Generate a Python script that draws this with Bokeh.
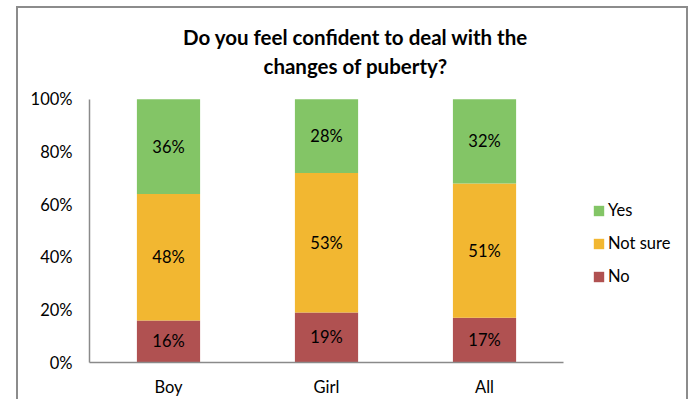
from bokeh.plotting import figure
from bokeh.models import (ColumnDataSource, FixedTicker, PrintfTickFormatter, LabelSet, Label,
                          Legend, LegendItem, Range1d, InlineStyleSheet)
from bokeh.core.properties import value
from bokeh.embed import file_html
from bokeh.resources import INLINE

categories = ["Boy", "Girl", "All"]
no = [16, 19, 17]
not_sure = [48, 53, 51]
yes = [36, 28, 32]
series_names = ["No", "Not sure", "Yes"]
series_values = [no, not_sure, yes]
colors = ["#B05151", "#F2B731", "#83C566"]
y_ticks = [0, 20, 40, 60, 80, 100]
title_lines = ["Do you feel confident to deal with the", "changes of puberty?"]

FONT = "Lato"
FS = "16.5px"

# frame spans the whole chart area to the right and top, so that title and
# legend (which are clipped to the frame) can live inside it
x_pos = [i + 0.5 for i in range(len(categories))]
p = figure(width=688, height=399, output_backend="svg", toolbar_location=None,
           x_range=Range1d(0, 3.791), y_range=Range1d(0, 137.5),
           min_border_left=89, min_border_right=0, min_border_top=0, min_border_bottom=36)
p.outline_line_color = None
p.xgrid.grid_line_color = None
p.ygrid.grid_line_color = None

data = {"x": x_pos}
for n, v in zip(series_names, series_values):
    data[n] = v
src = ColumnDataSource(data)
renderers = p.vbar_stack(series_names, x="x", width=0.4, color=colors, source=src, line_color=None)

# segment labels
lx, ly, lt = [], [], []
for i, xp in enumerate(x_pos):
    bottom = 0
    for v in series_values:
        val = v[i]
        lx.append(xp)
        ly.append(bottom + val / 2)
        lt.append(f"{val}%")
        bottom += val
lsrc = ColumnDataSource(dict(x=lx, y=ly, t=lt))
p.add_layout(LabelSet(x="x", y="y", text="t", source=lsrc, text_align="center",
                      text_baseline="middle", text_font=value(FONT), text_font_size=FS,
                      text_color="#000000"))

# axes
for ax in (p.xaxis[0], p.yaxis[0]):
    ax.axis_line_color = "#8a8a8a"
    ax.axis_line_width = 1.5
    ax.major_tick_line_color = None
    ax.minor_tick_line_color = None
    ax.major_tick_in = 0
    ax.major_tick_out = 0
    ax.minor_tick_in = 0
    ax.minor_tick_out = 0
    ax.major_label_text_font = FONT
    ax.major_label_text_font_size = FS
    ax.major_label_text_color = "#000000"
p.yaxis.ticker = FixedTicker(ticks=y_ticks)
p.yaxis.formatter = PrintfTickFormatter(format="%d%%")
p.yaxis.bounds = (0, 100)
p.yaxis.major_label_standoff = 17
p.xaxis.ticker = FixedTicker(ticks=x_pos)
p.xaxis.major_label_overrides = {xp: c for xp, c in zip(x_pos, categories)}
p.xaxis.bounds = (0, len(categories))
p.xaxis.major_label_standoff = 14

# title (two centred lines)
for txt, yy in zip(title_lines, (123.5, 112.5)):
    p.add_layout(Label(x=1.684, y=yy, text=txt, text_align="center", text_baseline="middle",
                       text_font=FONT, text_font_style="bold", text_font_size="20.5px",
                       text_color="#000000"))

# legend
items = [LegendItem(label=series_names[i], renderers=[renderers[i]]) for i in (2, 1, 0)]
legend = Legend(items=items, location=(503, 76), border_line_color=None, background_fill_alpha=0,
                padding=0, margin=0, spacing=13, label_height=20, glyph_height=13, glyph_width=13,
                label_standoff=3, label_text_font=FONT, label_text_font_size=FS,
                label_text_color="#000000")
p.add_layout(legend)

# chart border
p.stylesheets = [InlineStyleSheet(css="""
:host { position: relative; overflow: hidden; }
:host::after { content: ""; position: absolute; left: 16px; top: 6px; width: 672px; height: 600px;
  border: 2px solid #8c8c8c; box-sizing: border-box; pointer-events: none; }
""")]

open("out.html", "w").write(file_html(p, INLINE))
